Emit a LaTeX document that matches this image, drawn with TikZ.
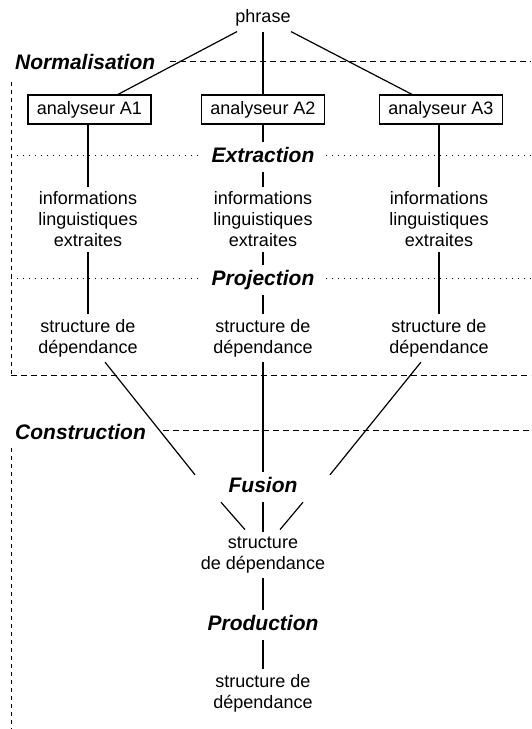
\documentclass[tikz,border=0pt]{standalone}
\usepackage{fontspec}
\setmainfont{Liberation Sans}
\begin{document}
\begin{tikzpicture}[x=1pt,y=-1pt,
  every node/.style={font=\fontsize{18}{21}\selectfont},
  txt/.style={align=center,inner sep=5pt},
  anbox/.style={draw,line width=1.2pt,inner xsep=9pt,inner ysep=6pt,text height=13pt,text depth=4pt},
  phase/.style={font=\fontsize{21}{24}\selectfont\bfseries\itshape,text height=15pt,text depth=5pt,inner sep=5pt,anchor=base},
  link/.style={line width=1.2pt},
  frame/.style={line width=1pt,dash pattern=on 6pt off 4pt},
  side/.style={line width=1pt,dash pattern=on 4pt off 4pt},
  dots/.style={line width=1pt,dash pattern=on 1pt off 5pt}]
\useasboundingbox (0,0) rectangle (531,729);

% input sentence and the three parsers
\node[txt] (phrase) at (263,18) {phrase};
\node[anbox] (B1) at (89.5,109.5) {analyseur A1};
\node[anbox] (B2) at (263,109.5) {analyseur A2};
\node[anbox] (B3) at (441,109.5) {analyseur A3};

% phase labels
\node[phase,anchor=base west,inner sep=0pt] (Norm) at (15,69) {Normalisation};
\node[phase] (Extr) at (263,162) {Extraction};
\node[phase] (Proj) at (263,285) {Projection};
\node[phase,anchor=base west,inner sep=0pt] (Cons) at (15,439) {Construction};
\node[phase] (Fus) at (263,492) {Fusion};
\node[phase] (Prod) at (263,630) {Production};

% extracted information
\node[txt] (I1) at (88,219.5) {informations\\linguistiques\\extraites};
\node[txt] (I2) at (263,219.5) {informations\\linguistiques\\extraites};
\node[txt] (I3) at (439,219.5) {informations\\linguistiques\\extraites};

% projected dependency structures
\node[txt] (S1) at (88,338) {structure de\\dépendance};
\node[txt] (S2) at (263,338) {structure de\\dépendance};
\node[txt] (S3) at (439,338) {structure de\\dépendance};

% merged and final structures
\node[txt] (SF) at (263,555) {structure\\de dépendance};
\node[txt] (SP) at (263,693) {structure de\\dépendance};

% phase frames
\draw[frame] (170,61) -- (531,61);
\draw[side] (11,82) -- (11,375);
\draw[frame] (11,375) -- (531,375);
\draw[frame] (163,430) -- (531,430);
\draw[side] (11,448) -- (11,729);
\draw[dots] (11,155) -- (200,155);
\draw[dots] (326,155) -- (531,155);
\draw[dots] (11,278) -- (200,278);
\draw[dots] (326,278) -- (531,278);

% connectors
\draw[link] ([xshift=-26pt]phrase.south) -- ([xshift=28.5pt]B1.north);
\draw[link] (phrase) -- (B2);
\draw[link] ([xshift=28pt]phrase.south) -- ([xshift=-29pt]B3.north);

\draw[link] (B1.south -| I1.north) -- (I1);
\draw[link] (B2) -- (Extr);
\draw[link] (Extr) -- (I2);
\draw[link] (B3.south -| I3.north) -- (I3);

\draw[link] (I1) -- (S1);
\draw[link] (I2) -- (Proj);
\draw[link] (Proj) -- (S2);
\draw[link] (I3) -- (S3);

\draw[link] ([xshift=17pt]S1.south) -- ([xshift=-68pt,yshift=-3pt]Fus.north);
\draw[link] (S2) -- (Fus);
\draw[link] ([xshift=-18pt]S3.south) -- ([xshift=67pt,yshift=-3pt]Fus.north);

\draw[link] ([xshift=-42pt]Fus.south) -- ([xshift=-18pt,yshift=2pt]SF.north);
\draw[link] (Fus) -- (SF);
\draw[link] ([xshift=40pt]Fus.south) -- ([xshift=17pt,yshift=2pt]SF.north);

\draw[link] (SF) -- (Prod);
\draw[link] (Prod) -- (SP);
\end{tikzpicture}
\end{document}
